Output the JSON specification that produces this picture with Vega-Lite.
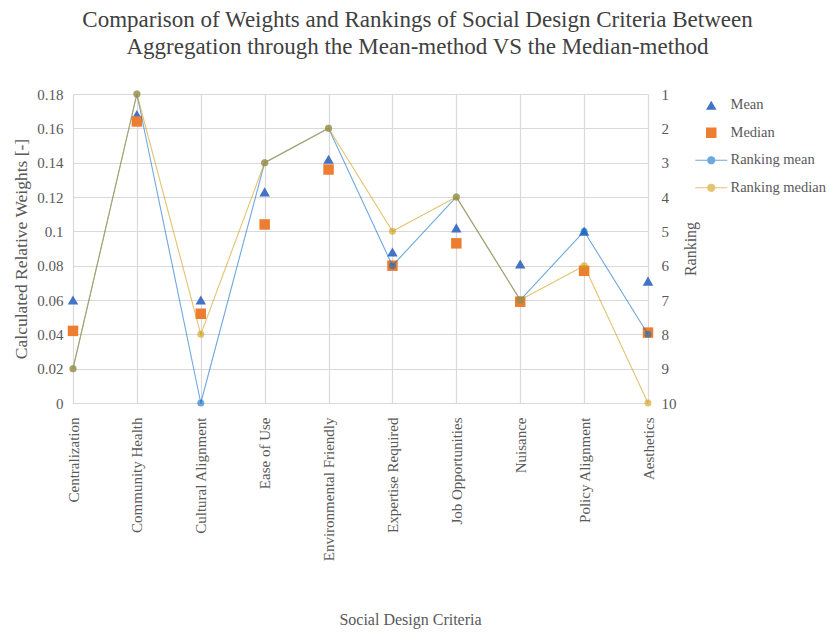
{
  "$schema": "https://vega.github.io/schema/vega-lite/v6.json",
  "width": 575,
  "height": 309,
  "autosize": {"type": "none"},
  "padding": {"left": 73, "top": 94, "right": 181, "bottom": 230},
  "background": "white",
  "title": {
    "text": ["Comparison of Weights and Rankings of Social Design Criteria Between", "Aggregation through the Mean-method VS the Median-method"],
    "fontSize": 23,
    "font": "Liberation Serif",
    "fontWeight": "normal",
    "color": "#404040",
    "anchor": "middle",
    "dx": 57,
    "lineHeight": 27,
    "offset": 28
  },
  "config": {
    "font": "Liberation Serif",
    "view": {"stroke": null},
    "axis": {
      "labelFont": "Liberation Serif",
      "titleFont": "Liberation Serif",
      "labelFontSize": 15,
      "titleFontSize": 17.5,
      "titleFontWeight": "normal",
      "labelColor": "#595959",
      "titleColor": "#595959",
      "gridColor": "#d9d9d9",
      "gridWidth": 1.2,
      "ticks": false,
      "domain": false
    },
    "legend": {
      "labelFont": "Liberation Serif",
      "labelFontSize": 14.5,
      "labelColor": "#595959",
      "symbolSize": 110,
      "rowPadding": 12.5,
      "labelOffset": 12,
      "symbolStrokeWidth": 1.2
    }
  },
  "datasets": {
    "weights": [
      {"criterion": "Centralization", "series": "Mean", "weight": 0.060},
      {"criterion": "Community Health", "series": "Mean", "weight": 0.168},
      {"criterion": "Cultural Alignment", "series": "Mean", "weight": 0.060},
      {"criterion": "Ease of Use", "series": "Mean", "weight": 0.123},
      {"criterion": "Environmental Friendly", "series": "Mean", "weight": 0.142},
      {"criterion": "Expertise Required", "series": "Mean", "weight": 0.088},
      {"criterion": "Job Opportunities", "series": "Mean", "weight": 0.102},
      {"criterion": "Nuisance", "series": "Mean", "weight": 0.081},
      {"criterion": "Policy Alignment", "series": "Mean", "weight": 0.100},
      {"criterion": "Aesthetics", "series": "Mean", "weight": 0.071},
      {"criterion": "Centralization", "series": "Median", "weight": 0.042},
      {"criterion": "Community Health", "series": "Median", "weight": 0.164},
      {"criterion": "Cultural Alignment", "series": "Median", "weight": 0.052},
      {"criterion": "Ease of Use", "series": "Median", "weight": 0.104},
      {"criterion": "Environmental Friendly", "series": "Median", "weight": 0.136},
      {"criterion": "Expertise Required", "series": "Median", "weight": 0.080},
      {"criterion": "Job Opportunities", "series": "Median", "weight": 0.093},
      {"criterion": "Nuisance", "series": "Median", "weight": 0.059},
      {"criterion": "Policy Alignment", "series": "Median", "weight": 0.077},
      {"criterion": "Aesthetics", "series": "Median", "weight": 0.041}
    ],
    "ranks": [
      {"criterion": "Centralization", "series": "Ranking mean", "rank": 9},
      {"criterion": "Community Health", "series": "Ranking mean", "rank": 1},
      {"criterion": "Cultural Alignment", "series": "Ranking mean", "rank": 10},
      {"criterion": "Ease of Use", "series": "Ranking mean", "rank": 3},
      {"criterion": "Environmental Friendly", "series": "Ranking mean", "rank": 2},
      {"criterion": "Expertise Required", "series": "Ranking mean", "rank": 6},
      {"criterion": "Job Opportunities", "series": "Ranking mean", "rank": 4},
      {"criterion": "Nuisance", "series": "Ranking mean", "rank": 7},
      {"criterion": "Policy Alignment", "series": "Ranking mean", "rank": 5},
      {"criterion": "Aesthetics", "series": "Ranking mean", "rank": 8},
      {"criterion": "Centralization", "series": "Ranking median", "rank": 9},
      {"criterion": "Community Health", "series": "Ranking median", "rank": 1},
      {"criterion": "Cultural Alignment", "series": "Ranking median", "rank": 8},
      {"criterion": "Ease of Use", "series": "Ranking median", "rank": 3},
      {"criterion": "Environmental Friendly", "series": "Ranking median", "rank": 2},
      {"criterion": "Expertise Required", "series": "Ranking median", "rank": 5},
      {"criterion": "Job Opportunities", "series": "Ranking median", "rank": 4},
      {"criterion": "Nuisance", "series": "Ranking median", "rank": 7},
      {"criterion": "Policy Alignment", "series": "Ranking median", "rank": 6},
      {"criterion": "Aesthetics", "series": "Ranking median", "rank": 10}
    ]
  },
  "layer": [
    {
      "data": {"name": "weights"},
      "mark": {"type": "point", "filled": true, "size": 110, "opacity": 1},
      "encoding": {
        "x": {
          "field": "criterion",
          "type": "nominal",
          "sort": ["Centralization", "Community Health", "Cultural Alignment", "Ease of Use", "Environmental Friendly", "Expertise Required", "Job Opportunities", "Nuisance", "Policy Alignment", "Aesthetics"],
          "scale": {"type": "point", "padding": 0},
          "axis": {
            "title": "Social Design Criteria",
            "titleFontSize": 16,
            "labelAngle": -90,
            "labelPadding": 14,
            "titlePadding": 51,
            "titleX": 337,
            "grid": true,
            "domain": true,
            "domainColor": "#d9d9d9",
            "domainWidth": 1.2
          }
        },
        "y": {
          "field": "weight",
          "type": "quantitative",
          "scale": {"domain": [0, 0.18], "nice": false},
          "axis": {
            "title": "Calculated Relative Weights [-]",
            "values": [0, 0.02, 0.04, 0.06, 0.08, 0.1, 0.12, 0.14, 0.16, 0.18],
            "format": "~g",
            "grid": true,
            "labelPadding": 10,
            "titlePadding": 6
          }
        },
        "color": {
          "field": "series",
          "type": "nominal",
          "scale": {"domain": ["Mean", "Median"], "range": ["#4472C4", "#ED7D31"]},
          "legend": {"title": null, "orient": "none", "legendX": 631, "legendY": 4}
        },
        "shape": {
          "field": "series",
          "type": "nominal",
          "scale": {"domain": ["Mean", "Median"], "range": ["triangle-up", "square"]},
          "legend": {"title": null, "orient": "none", "legendX": 631, "legendY": 4}
        }
      }
    },
    {
      "data": {"name": "ranks"},
      "encoding": {
        "x": {
          "field": "criterion",
          "type": "nominal",
          "sort": ["Centralization", "Community Health", "Cultural Alignment", "Ease of Use", "Environmental Friendly", "Expertise Required", "Job Opportunities", "Nuisance", "Policy Alignment", "Aesthetics"]
        },
        "y": {
          "field": "rank",
          "type": "quantitative",
          "scale": {"domain": [1, 10], "reverse": true, "nice": false, "zero": false},
          "axis": {
            "orient": "right",
            "title": "Ranking",
            "titleFontSize": 16,
            "values": [1, 2, 3, 4, 5, 6, 7, 8, 9, 10],
            "grid": false,
            "labelPadding": 13,
            "titlePadding": 22,
            "titleAngle": 270
          }
        }
      },
      "layer": [
        {
          "mark": {"type": "line", "strokeWidth": 1.1, "opacity": 0.6},
          "encoding": {
            "stroke": {
              "field": "series",
              "type": "nominal",
              "scale": {"domain": ["Ranking mean", "Ranking median"], "range": ["#0F6EC5", "#CF9D12"]},
              "legend": {
                "title": null,
                "orient": "none",
                "legendX": 631,
                "legendY": 59,
                "symbolOpacity": 0.6,
                "symbolType": "M-3.05,0L3.05,0M0.67,0A0.67,0.67,0,1,1,-0.67,0A0.67,0.67,0,1,1,0.67,0Z"
              }
            }
          }
        },
        {
          "mark": {"type": "point", "filled": true, "shape": "circle", "size": 49, "opacity": 0.6},
          "encoding": {
            "fill": {
              "field": "series",
              "type": "nominal",
              "scale": {"domain": ["Ranking mean", "Ranking median"], "range": ["#0F6EC5", "#CF9D12"]},
              "legend": {
                "title": null,
                "orient": "none",
                "legendX": 631,
                "legendY": 59,
                "symbolOpacity": 0.6,
                "symbolType": "M-3.05,0L3.05,0M0.67,0A0.67,0.67,0,1,1,-0.67,0A0.67,0.67,0,1,1,0.67,0Z"
              }
            }
          }
        }
      ]
    }
  ],
  "resolve": {"scale": {"y": "independent"}}
}
